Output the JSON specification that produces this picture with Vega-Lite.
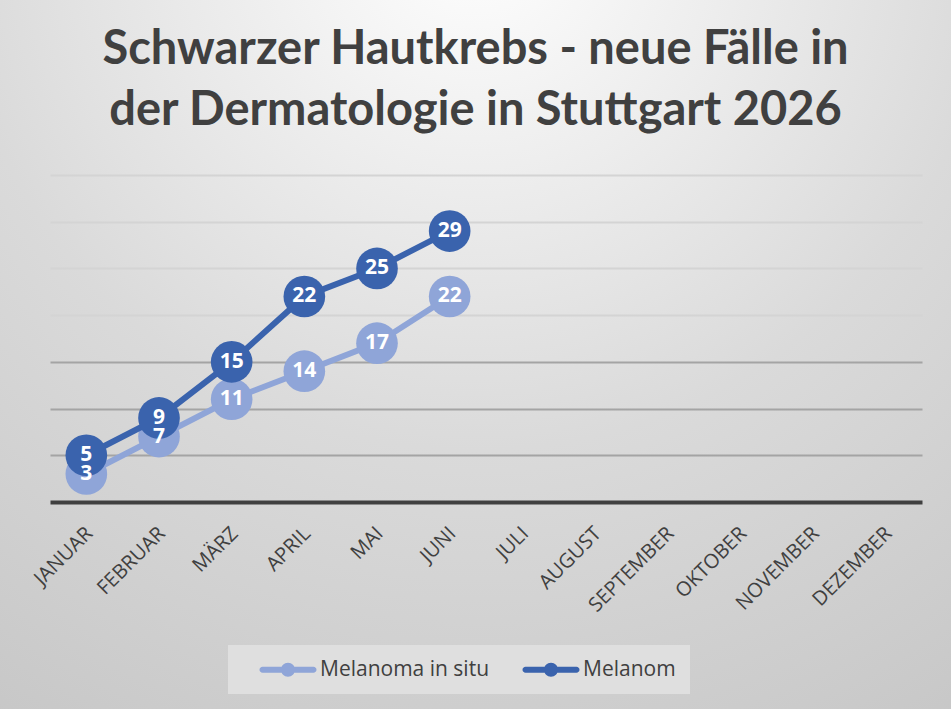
{
  "$schema": "https://vega.github.io/schema/vega-lite/v6.json",
  "width": 951,
  "height": 709,
  "autosize": "none",
  "padding": 0,
  "background": "#cfcfcf",
  "view": {
    "stroke": null,
    "fill": {
      "gradient": "radial",
      "x1": 0.5, "y1": 0.05, "r1": 0,
      "x2": 0.5, "y2": 0.05, "r2": 1,
      "stops": [
        {"offset": 0, "color": "#ffffff"},
        {"offset": 0.55, "color": "#dadada"},
        {"offset": 1, "color": "#c6c6c6"}
      ]
    }
  },
  "title": {
    "text": ["Schwarzer Hautkrebs - neue Fälle in", "der Dermatologie in Stuttgart 2026"],
    "frame": "group",
    "anchor": "middle",
    "orient": "top",
    "offset": -172,
    "baseline": "alphabetic",
    "lineHeight": 61,
    "font": "Lato",
    "fontSize": 47,
    "fontWeight": "bold",
    "color": "#404040"
  },
  "config": {
    "axis": {"labelFont": "Open Sans", "labelColor": "#404040"},
    "legend": {"labelFont": "Open Sans"}
  },
  "data": {
    "values": [
      {"monat": "JANUAR", "serie": "Melanoma in situ", "faelle": 3},
      {"monat": "FEBRUAR", "serie": "Melanoma in situ", "faelle": 7},
      {"monat": "MÄRZ", "serie": "Melanoma in situ", "faelle": 11},
      {"monat": "APRIL", "serie": "Melanoma in situ", "faelle": 14},
      {"monat": "MAI", "serie": "Melanoma in situ", "faelle": 17},
      {"monat": "JUNI", "serie": "Melanoma in situ", "faelle": 22},
      {"monat": "JANUAR", "serie": "Melanom", "faelle": 5},
      {"monat": "FEBRUAR", "serie": "Melanom", "faelle": 9},
      {"monat": "MÄRZ", "serie": "Melanom", "faelle": 15},
      {"monat": "APRIL", "serie": "Melanom", "faelle": 22},
      {"monat": "MAI", "serie": "Melanom", "faelle": 25},
      {"monat": "JUNI", "serie": "Melanom", "faelle": 29}
    ]
  },
  "encoding": {
    "x": {
      "field": "monat",
      "type": "nominal",
      "sort": null,
      "scale": {
        "type": "band",
        "domain": ["JANUAR", "FEBRUAR", "MÄRZ", "APRIL", "MAI", "JUNI", "JULI", "AUGUST", "SEPTEMBER", "OKTOBER", "NOVEMBER", "DEZEMBER"],
        "range": [50, 922],
        "paddingInner": 0,
        "paddingOuter": 0
      },
      "axis": {
        "title": null,
        "orient": "bottom",
        "offset": -207,
        "ticks": false,
        "domainColor": "#404040",
        "domainWidth": 4,
        "labelAngle": -45,
        "labelFontSize": 20,
        "labelPadding": 21,
        "labelOffset": -4,
        "labelOverlap": false,
        "grid": false
      }
    },
    "y": {
      "field": "faelle",
      "type": "quantitative",
      "scale": {"domain": [0, 35], "range": [502, 175], "nice": false},
      "axis": {
        "title": null,
        "domain": false,
        "ticks": false,
        "labels": false,
        "values": [5, 10, 15, 20, 25, 30, 35],
        "grid": true,
        "gridWidth": 2,
        "gridColor": {"condition": {"test": "datum.value <= 15", "value": "#a4a4a4"}, "value": "#d4d4d4"}
      }
    },
    "color": {
      "field": "serie",
      "type": "nominal",
      "scale": {"domain": ["Melanoma in situ", "Melanom"], "range": ["#8fa5d8", "#3a63ad"]},
      "legend": {
        "title": null,
        "orient": "none",
        "legendX": 228,
        "legendY": 645,
        "direction": "horizontal",
        "fillColor": "#dfdfdf",
        "padding": 14,
        "labelFontSize": 21,
        "labelColor": "#404040",
        "labelLimit": 400,
        "labelOffset": 57,
        "columnPadding": 15,
        "symbolSize": 400,
        "symbolStrokeWidth": 0,
        "symbolType": "M1,-0.3H6.1A0.3,0.3 0 0 1 6.1,0.3H1A0.3,0.3 0 0 1 1,-0.3Z M4.25,0A0.7,0.7 0 1 1 2.85,0A0.7,0.7 0 1 1 4.25,0Z",
        "encode": {
          "symbols": {
            "update": {
              "fill": {"scale": "color", "field": "value"},
              "stroke": {"value": "transparent"},
              "opacity": {"value": 1}
            }
          }
        }
      }
    }
  },
  "layer": [
    {
      "transform": [{"filter": "datum.serie === 'Melanoma in situ'"}],
      "mark": {"type": "line", "strokeWidth": 6}
    },
    {
      "transform": [{"filter": "datum.serie === 'Melanoma in situ'"}],
      "mark": {"type": "circle", "size": 1735, "opacity": 1}
    },
    {
      "transform": [{"filter": "datum.serie === 'Melanom'"}],
      "mark": {"type": "line", "strokeWidth": 6}
    },
    {
      "transform": [{"filter": "datum.serie === 'Melanom'"}],
      "mark": {"type": "circle", "size": 1735, "opacity": 1}
    },
    {
      "mark": {"type": "text", "font": "Open Sans", "fontWeight": "bold", "fontSize": 21, "fill": "#ffffff", "baseline": "middle", "align": "center"},
      "encoding": {
        "text": {"field": "faelle", "type": "quantitative"},
        "color": {"value": "#ffffff"}
      }
    }
  ]
}
